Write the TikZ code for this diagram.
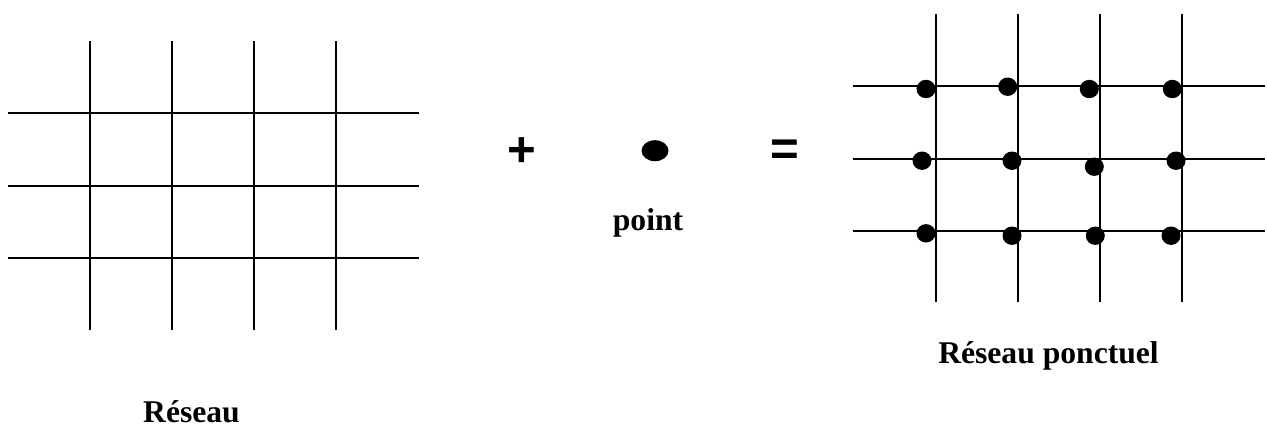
\documentclass[tikz,border=0pt]{standalone}
\usepackage{fontspec}
\setmainfont{Liberation Serif}
\newfontfamily\opfont{Liberation Sans}
\usetikzlibrary{positioning}
\tikzset{
    gridline/.style={line width=1.1pt},
    latticedot/.style={fill=black},
    caption/.style={font=\fontsize{18}{20}\selectfont\bfseries,inner sep=0pt,anchor=base},
    opsign/.style={font=\opfont\fontsize{28}{30}\selectfont\bfseries,inner sep=0pt}
}
\begin{document}
\begin{tikzpicture}[x=0.02cm,y=-0.02cm]
    \useasboundingbox (0,0) rectangle (1267,427);
    % reseau
    \foreach \x in {90,172,254,336}
        \draw[gridline] (\x,41) -- (\x,330);
    \foreach \y in {112.7,185.7,258}
        \draw[gridline] (8,\y) -- (419,\y);
    \node[caption] (reseau) at (191.5,422) {Réseau};
    % plus, motif, egal
    \node[opsign] (plus) at (521.5,152.5) {+};
    \fill[latticedot] (655,150.7) ellipse [x radius=13.5,y radius=10.5];
    \node[caption] (point) at (648,230) {point};
    \node[opsign] (egal) at (785.3,152.5) {=};
    % reseau ponctuel
    \foreach \x in {936,1017.7,1099.7,1181.7}
        \draw[gridline] (\x,14) -- (\x,302);
    \foreach \y in {85.7,158.7,231}
        \draw[gridline] (852.7,\y) -- (1265,\y);
    \foreach \p in {(926,89),(1007.7,86.7),(1089.3,89),(1172.3,89),
                    (922,160.7),(1012,160.7),(1094.3,166.7),(1176,160.7),
                    (926,233.3),(1012,235.7),(1095.3,235.7),(1171,235.7)}
        \fill[latticedot] \p ellipse [x radius=9.5,y radius=9.2];
    \node[caption] (ponctuel) at (1048.5,363) {Réseau ponctuel};
\end{tikzpicture}
\end{document}
